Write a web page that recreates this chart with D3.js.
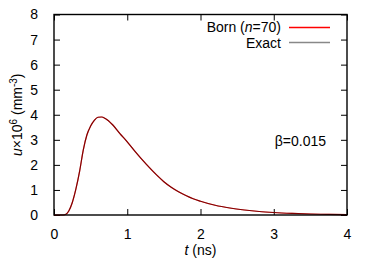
<!DOCTYPE html>
<html>
<head>
<meta charset="utf-8">
<script src="https://cdn.jsdelivr.net/npm/d3@7"></script>
<style>
  body { margin: 0; background: #fff; }
  text { font-family: "Liberation Sans", Arial, sans-serif; }
</style>
</head>
<body>
<div id="chart"></div>
<script>
// values
var tVals = [0, 0.1, 0.15, 0.2, 0.25, 0.3, 0.35, 0.4, 0.45, 0.5, 0.55, 0.6, 0.65, 0.7, 0.8, 0.9, 1.0, 1.1, 1.2, 1.3, 1.4, 1.5, 1.6, 1.7, 1.8, 1.9, 2.0, 2.2, 2.4, 2.6, 2.8, 3.0, 3.25, 3.5, 3.75, 4.0]
var bornVals = [0, 0, 0.01, 0.15, 0.5, 1.05, 1.75, 2.6, 3.2, 3.55, 3.78, 3.9, 3.91, 3.85, 3.6, 3.25, 2.92, 2.56, 2.22, 1.9, 1.6, 1.33, 1.11, 0.93, 0.78, 0.65, 0.55, 0.39, 0.28, 0.2, 0.14, 0.1, 0.065, 0.04, 0.025, 0.015]
var exactVals = [0, 0, 0.01, 0.15, 0.5, 1.05, 1.75, 2.6, 3.2, 3.55, 3.78, 3.9, 3.91, 3.85, 3.6, 3.25, 2.92, 2.56, 2.22, 1.9, 1.6, 1.33, 1.11, 0.93, 0.78, 0.65, 0.55, 0.39, 0.28, 0.2, 0.14, 0.1, 0.065, 0.04, 0.025, 0.015]
var xTicks = [0, 1, 2, 3, 4]
var yTicks = [0, 1, 2, 3, 4, 5, 6, 7, 8]

var W = 374, H = 262
var pL = 54, pR = 347, pT = 14.5, pB = 215

var svg = d3.select("#chart")
            .append("svg")
            .attr("width", W)
            .attr("height", H)

var x = d3.scaleLinear().domain([0, 4]).range([pL, pR])
var y = d3.scaleLinear().domain([0, 8]).range([pB, pT])

var tick = 6
var fs = "14px"

// ticks on all four sides, pointing in
function axisIn(g, axis) {
  g.call(axis)
  g.select(".domain").remove()
  g.selectAll("line").attr("stroke", "#000")
  g.selectAll("text").style("font-size", fs).attr("fill", "#000")
}

svg.append("g")
   .attr("transform", "translate(0," + pB + ")")
   .call(function(g) { axisIn(g, d3.axisBottom(x).tickValues(xTicks).tickFormat(d3.format("d")).tickSizeInner(-tick).tickPadding(14)) })

svg.append("g")
   .attr("transform", "translate(0," + pT + ")")
   .call(function(g) { axisIn(g, d3.axisTop(x).tickValues(xTicks).tickSizeInner(-tick).tickFormat("")) })

svg.append("g")
   .attr("transform", "translate(" + pL + ",0)")
   .call(function(g) { axisIn(g, d3.axisLeft(y).tickValues(yTicks).tickFormat(d3.format("d")).tickSizeInner(-tick).tickPadding(16)) })

svg.append("g")
   .attr("transform", "translate(" + pR + ",0)")
   .call(function(g) { axisIn(g, d3.axisRight(y).tickValues(yTicks).tickSizeInner(-tick).tickFormat("")) })

// curves
var line = d3.line()
    .x(function(d) { return x(d[0]) })
    .y(function(d) { return y(d[1]) })
    .curve(d3.curveMonotoneX)

svg.append("path")
   .datum(d3.zip(tVals, bornVals))
   .attr("d", line)
   .attr("fill", "none")
   .attr("stroke", "#ff0000")
   .attr("stroke-width", 1.2)

svg.append("path")
   .datum(d3.zip(tVals, exactVals))
   .attr("d", line)
   .attr("fill", "none")
   .attr("stroke", "#000")
   .attr("stroke-opacity", 0.5)
   .attr("stroke-width", 1.2)

// frame
svg.append("rect")
   .attr("x", pL).attr("y", pT)
   .attr("width", pR - pL).attr("height", pB - pT)
   .attr("fill", "none").attr("stroke", "#000").attr("stroke-width", 1.4)

// legend
var leg = svg.append("g").style("font-size", fs)
var bornLabel = leg.append("text").attr("x", 281).attr("y", 32).attr("text-anchor", "end")
bornLabel.append("tspan").text("Born (")
bornLabel.append("tspan").style("font-style", "italic").text("n")
bornLabel.append("tspan").text("=70)")
leg.append("line").attr("x1", 289).attr("x2", 330).attr("y1", 27.5).attr("y2", 27.5)
   .attr("stroke", "#ff0000").attr("stroke-width", 1.3)

leg.append("text").attr("x", 281).attr("y", 47.5).attr("text-anchor", "end").text("Exact")
leg.append("line").attr("x1", 289).attr("x2", 330).attr("y1", 42.5).attr("y2", 42.5)
   .attr("stroke", "#888").attr("stroke-width", 1.3)

svg.append("text")
   .attr("x", 326).attr("y", 145.5)
   .attr("text-anchor", "end")
   .style("font-size", fs)
   .text("β=0.015")

// axis titles
var xt = svg.append("text")
   .attr("x", (pL + pR) / 2).attr("y", 255)
   .attr("text-anchor", "middle")
   .style("font-size", fs)
xt.append("tspan").style("font-style", "italic").text("t")
xt.append("tspan").text(" (ns)")

var yt = svg.append("text")
   .attr("transform", "translate(22," + ((pT + pB) / 2) + ") rotate(-90)")
   .attr("text-anchor", "middle")
   .style("font-size", fs)
yt.append("tspan").style("font-style", "italic").text("u")
yt.append("tspan").text("×10")
yt.append("tspan").attr("dy", -5).style("font-size", "10px").text("6")
yt.append("tspan").attr("dy", 5).text(" (mm")
yt.append("tspan").attr("dy", -5).style("font-size", "10px").text("-3")
yt.append("tspan").attr("dy", 5).text(")")
</script>
</body>
</html>
